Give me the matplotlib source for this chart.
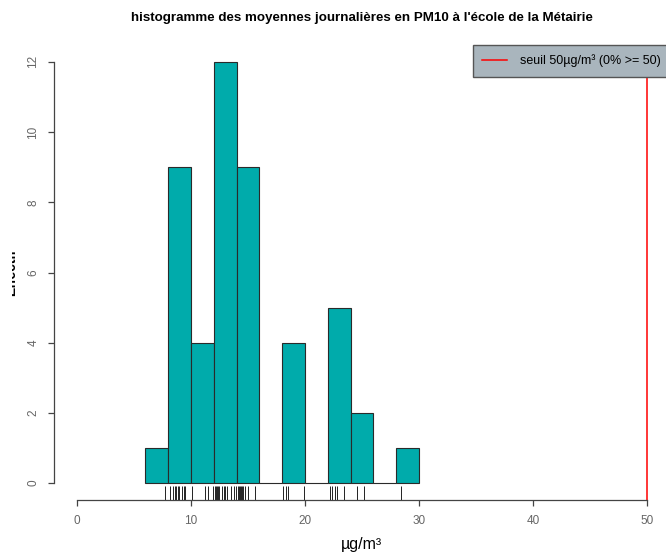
import numpy as np
import matplotlib
matplotlib.use("Agg")
import matplotlib.pyplot as plt
from matplotlib.lines import Line2D
from matplotlib.transforms import Bbox

plt.rcParams['font.family'] = ['Liberation Sans', 'DejaVu Sans']

# daily PM10 means (µg/m³)
pm10 = [7.7,
        8.2, 8.4, 8.6, 8.7, 8.9, 9.0, 9.2, 9.4, 9.5,
        10.1, 11.2, 11.5, 11.9,
        12.1, 12.2, 12.3, 12.4, 12.5, 12.7, 12.9, 13.0, 13.2, 13.5, 13.8, 13.95,
        14.1, 14.2, 14.3, 14.4, 14.5, 14.6, 14.7, 15.0, 15.6,
        18.1, 18.3, 18.5, 19.9,
        22.2, 22.4, 22.6, 22.8, 23.4,
        24.6, 25.2,
        28.4]
bin_edges = np.arange(6, 32, 2)
seuil = 50
x_ticks = [0, 10, 20, 30, 40, 50]
y_ticks = [0, 2, 4, 6, 8, 10, 12]

W, H = 666, 556
fig = plt.figure(figsize=(W / 100, H / 100), dpi=100)
ax = fig.add_axes([54 / W, 1 - 500 / H, (670 - 54) / W, (500 - 45) / H])

ax.hist(pm10, bins=bin_edges, color='#00ABAB', edgecolor='#2a2a2a', linewidth=0.8)
ax.set_xlim(-2, 52)
ax.set_ylim(-0.48, 12.48)

# rug along the bottom of the plot region
ax.vlines(pm10, -0.48, -0.48 + 0.03 * 12.96, color='#222222', linewidth=0.7)

ax.axvline(seuil, color='red', linewidth=1.1)

pct = 100 * np.mean(np.array(pm10) >= seuil)
handle = Line2D([], [], color='red', linewidth=1.1)
leg = ax.legend([handle], ['seuil %dµg/m³ (%d%% >= %d)' % (seuil, pct, seuil)],
                loc='upper right', bbox_to_anchor=(1, 1), borderaxespad=0,
                fancybox=False, framealpha=1, facecolor='#A9B5BD',
                edgecolor='#555555', fontsize=9, handlelength=2.0,
                handletextpad=1.0, borderpad=0.75)
leg.get_frame().set_linewidth(1.0)
leg.set_zorder(5)

for s in ['top', 'right']:
    ax.spines[s].set_visible(False)
ax.spines['left'].set_bounds(0, 12)
ax.spines['bottom'].set_bounds(0, 50)
for s in ['left', 'bottom']:
    ax.spines[s].set_color('#444444')
    ax.spines[s].set_linewidth(0.9)

ax.set_xticks(x_ticks)
ax.set_yticks(y_ticks)
ax.tick_params(axis='both', direction='out', length=4.5, width=0.9,
               color='#444444', labelcolor='#666666', labelsize=8.5, pad=6)
for lab in ax.get_yticklabels():
    lab.set_rotation(90)
    lab.set_va('center')

fig.text(362 / W, 1 - 18 / H,
         "histogramme des moyennes journalières en PM10 à l'école de la Métairie",
         ha='center', va='center', fontsize=9.6, fontweight='bold')
fig.text(362 / W, 1 - 545 / H, 'µg/m³', ha='center', va='center', fontsize=11.5)

ylab = fig.text(18 / W, 1 - 272 / H, 'Effectif', rotation=90,
                ha='right', va='center', fontsize=10, fontweight='bold')
ylab.set_clip_box(Bbox.from_extents(12, 0, W, H))
ylab.set_clip_on(True)

fig.savefig('out.png', dpi=100)
